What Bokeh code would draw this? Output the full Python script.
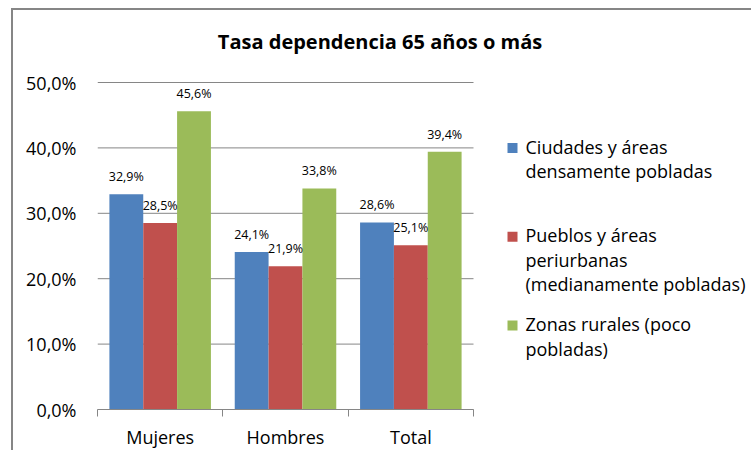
from bokeh.plotting import figure
from bokeh.models import ColumnDataSource, FixedTicker, Label, LabelSet, Range1d
from bokeh.core.properties import value
from bokeh.embed import file_html
from bokeh.resources import INLINE

# ---- data ----
title_text = "Tasa dependencia 65 años o más"
categories = ["Mujeres", "Hombres", "Total"]
series_names = ["Ciudades y áreas\ndensamente pobladas",
                "Pueblos y áreas\nperiurbanas\n(medianamente pobladas)",
                "Zonas rurales (poco\npobladas)"]
ciudades = [32.9, 24.1, 28.6]
pueblos = [28.5, 21.9, 25.1]
rurales = [45.6, 33.8, 39.4]
y_ticks = [0, 10, 20, 30, 40, 50]
y_tick_labels = ["0,0%", "10,0%", "20,0%", "30,0%", "40,0%", "50,0%"]
colors = ["#4F81BD", "#C0504D", "#9BBB59"]

FONT = "Open Sans"
GRAY = "#868686"

# ---- layout (pixels of the page) ----
W, H = 740, 442
CANVAS_X, CANVAS_Y = 13, 10
PLOT_L, PLOT_R, PLOT_T, PLOT_B = 97, 473, 82, 409
n_cat = len(categories)
px_per_x = (PLOT_R - PLOT_L) / n_cat
px_per_y = (PLOT_B - PLOT_T) / (y_ticks[-1] - y_ticks[0])


def px2x(px):
    return (px - PLOT_L) / px_per_x


def py2y(py):
    return (PLOT_B - py) / px_per_y


frame_right = CANVAS_X + W
frame_top = CANVAS_Y

p = figure(width=W, height=H, output_backend="svg", toolbar_location=None,
           x_range=Range1d(0, px2x(frame_right)), y_range=Range1d(0, py2y(frame_top)),
           min_border_left=PLOT_L - CANVAS_X, min_border_right=0, min_border_top=0,
           min_border_bottom=CANVAS_Y + H - PLOT_B)
p.styles = {"border-left": f"2px solid {GRAY}", "border-top": f"2px solid {GRAY}",
            "margin-left": "11px", "margin-top": "8px"}
p.outline_line_color = None
p.background_fill_color = "white"
p.border_fill_color = "white"
p.grid.visible = False

# gridlines over the plot area only
p.segment(x0=[0] * len(y_ticks), x1=[n_cat] * len(y_ticks), y0=y_ticks, y1=y_ticks,
          line_color=GRAY, line_width=1)

bar_w = 0.27
series = [ciudades, pueblos, rurales]
for k, (vals, col) in enumerate(zip(series, colors)):
    xs = [i + 0.5 + (k - 1) * bar_w for i in range(n_cat)]
    src = ColumnDataSource(dict(x=xs, top=vals,
                                lbl=[f"{v:.1f}%".replace(".", ",") for v in vals]))
    p.vbar(x="x", top="top", bottom=0, width=bar_w, source=src,
           fill_color=col, line_color=None)
    p.add_layout(LabelSet(x="x", y="top", text="lbl", source=src, y_offset=13,
                          text_align="center", text_baseline="alphabetic",
                          text_font=value(FONT), text_font_size=value("12.5px"),
                          text_color="#000000"))

# y axis
p.yaxis.ticker = FixedTicker(ticks=y_ticks)
p.yaxis.major_label_overrides = {t: l for t, l in zip(y_ticks, y_tick_labels)}
p.yaxis.axis_line_color = None
p.yaxis.major_tick_line_color = None
p.yaxis.minor_tick_line_color = None
p.yaxis.major_label_standoff = 15
p.yaxis.major_label_text_font = FONT
p.yaxis.major_label_text_font_size = "18px"
p.yaxis.major_label_text_color = "#000000"

# x axis
centers = [i + 0.5 for i in range(n_cat)]
bounds = [float(i) for i in range(n_cat + 1)]
p.xaxis.bounds = (0, n_cat)
p.xaxis.ticker = FixedTicker(ticks=centers, minor_ticks=bounds)
p.xaxis.major_label_overrides = {c: n for c, n in zip(centers, categories)}
p.xaxis.axis_line_color = GRAY
p.xaxis.major_tick_line_color = None
p.xaxis.major_tick_out = 0
p.xaxis.major_tick_in = 0
p.xaxis.minor_tick_line_color = GRAY
p.xaxis.minor_tick_out = 7
p.xaxis.minor_tick_in = 0
p.xaxis.major_label_standoff = 8
p.xaxis.major_label_text_font = FONT
p.xaxis.major_label_text_font_size = "18px"
p.xaxis.major_label_text_color = "#000000"

# title
TEXT_SHIFT = 8  # empirical baseline correction for Label
p.add_layout(Label(x=px2x(379.5), y=py2y(49 - TEXT_SHIFT), text=title_text,
                   text_align="center", text_baseline="alphabetic", text_font=FONT,
                   text_font_size="20px", text_font_style="bold", text_color="#000000"))

# legend (drawn by hand, right of the plot area)
first_baseline = 154
entry_pitch = 88.8
line_pitch = 24.5
for k, (name, col) in enumerate(zip(series_names, colors)):
    b0 = first_baseline + k * entry_pitch
    p.scatter(x=[px2x(512)], y=[py2y(b0 - 6.5)], marker="square", size=10,
              fill_color=col, line_color=None)
    for j, line in enumerate(name.split("\n")):
        p.add_layout(Label(x=px2x(525), y=py2y(b0 + j * line_pitch - TEXT_SHIFT), text=line,
                           text_align="left", text_baseline="alphabetic",
                           text_font=FONT, text_font_size="18px", text_color="#000000"))

open("out.html", "w").write(file_html(p, INLINE))
